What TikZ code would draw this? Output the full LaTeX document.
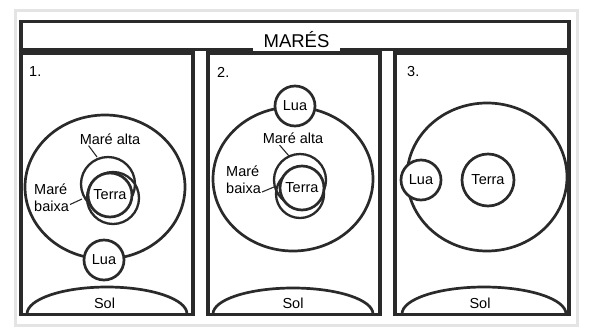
\documentclass[tikz,border=0pt]{standalone}
\usepackage{fontspec}
\setmainfont{Liberation Sans}
\usetikzlibrary{shapes.geometric}
\definecolor{ink}{HTML}{2A2A2A}
\definecolor{card}{HTML}{E4E4E4}
\newcommand{\tagfont}{\fontsize{14.5}{17}\selectfont}
\newcommand{\titlefont}{\fontsize{18.5}{20}\selectfont}

\begin{document}
\begin{tikzpicture}[x=1pt,y=-1pt,
  frame/.style={draw=ink, line width=3.6pt},
  orbit/.style={ellipse, draw=ink, line width=2.7pt, inner sep=0pt},
  body/.style={circle, draw=ink, line width=2.7pt, fill=white, inner sep=0pt, font=\tagfont},
  bulge/.style={circle, draw=ink, line width=2.3pt, inner sep=0pt},
  sun/.style={draw=ink, line width=2.7pt},
  tag/.style={fill=white, inner sep=1pt, font=\tagfont},
  twoline/.style={tag, align=left, anchor=west},
  leader/.style={draw=ink, line width=1.1pt},
]
\useasboundingbox (0,0) rectangle (589,333);

% card edge
\draw[card, line width=3pt] (15,10) rectangle (577,325);

% header and the three panels
\draw[frame] (21,21.5) rectangle (569,49.5);
\draw[frame] (21,53) rectangle (193,314.5);
\draw[frame] (208,53) rectangle (380,314.5);
\draw[frame] (395,53) rectangle (569,314.5);

% title
\fill[white] (253,29) rectangle (340,51.3);
\node[font=\titlefont, anchor=base, inner sep=0pt] (title) at (296.5,47) {MARÉS};

% panel numbers
\node[font=\tagfont, anchor=west, inner sep=0pt] (n1) at (29,72) {1.};
\node[font=\tagfont, anchor=west, inner sep=0pt] (n2) at (217,72) {2.};
\node[font=\tagfont, anchor=west, inner sep=0pt] (n3) at (407,72) {3.};

% Sun arcs
\draw[sun] (27,314) arc[start angle=180, end angle=360, x radius=80, y radius=27];
\draw[sun] (213,314) arc[start angle=180, end angle=360, x radius=80, y radius=26];
\draw[sun] (402,314) arc[start angle=180, end angle=360, x radius=82, y radius=27];

% orbits
\node[orbit, minimum width=160pt, minimum height=144pt] (orbit1) at (105,187) {};
\node[orbit, minimum width=160pt, minimum height=144pt] (orbit2) at (293,179) {};
\node[orbit, minimum width=160pt, minimum height=148pt] (orbit3) at (487,177) {};

% panel 1: tidal bulge towards the Moon below
\node[bulge, minimum size=54pt] (bulge1a) at (108,184) {};
\node[bulge, minimum size=52pt] (bulge1b) at (113,198) {};
\node[body, minimum size=44pt] (terra1) at (110,195) {Terra};
\node[body, minimum size=40pt] (lua1) at (104,260) {Lua};

% panel 2: Moon above
\node[bulge, minimum size=52pt] (bulge2a) at (300,180) {};
\node[bulge, minimum size=48pt] (bulge2b) at (300,194) {};
\node[body, minimum size=44pt] (terra2) at (302,188) {Terra};
\node[body, minimum size=40pt] (lua2) at (295,106) {Lua};

% panel 3: Moon at the side
\node[body, minimum size=52pt] (terra3) at (488,180) {Terra};
\node[body, minimum size=40pt] (lua3) at (421,180) {Lua};

% Sun labels
\node[tag] (sol1) at (104.5,303) {Sol};
\node[tag] (sol2) at (293,303) {Sol};
\node[tag] (sol3) at (480,303) {Sol};

% tide labels and their leaders
\node[tag] (alta1) at (110,139) {Maré alta};
\node[twoline] (baixa1) at (33,197.5) {Maré\\baixa};
\node[tag] (alta2) at (293,138.5) {Maré alta};
\node[twoline] (baixa2) at (225,180) {Maré\\baixa};

\coordinate (alta1end) at (97,157);
\coordinate (baixa1end) at (82,199);
\coordinate (alta2end) at (289,156);
\coordinate (baixa2end) at (274,187);

\draw[leader] ([xshift=10pt]alta1.south west) -- (alta1end);
\draw[leader] ([yshift=-7pt]baixa1.east) -- (baixa1end);
\draw[leader] ([xshift=18pt]alta2.south west) -- (alta2end);
\draw[leader] ([yshift=-12pt]baixa2.east) -- (baixa2end);
\end{tikzpicture}
\end{document}
